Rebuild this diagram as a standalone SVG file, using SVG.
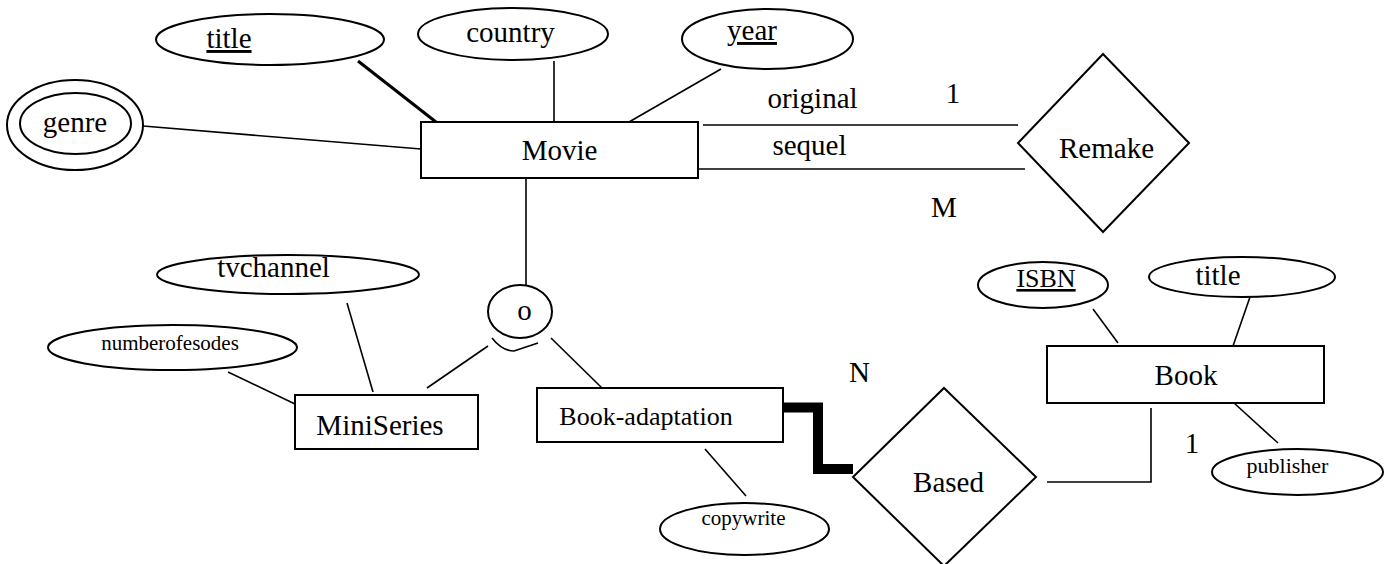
<svg xmlns="http://www.w3.org/2000/svg" width="1391" height="564" viewBox="0 0 1391 564">
<style>
.s{fill:#fff;stroke:#000;stroke-width:2}
.l{fill:none;stroke:#000;stroke-width:1.6}
.t{stroke-width:3}
text{font-family:"Liberation Serif","Times New Roman",serif;fill:#000;text-anchor:middle;font-size:29px}
.sm{font-size:21px}
.md{font-size:26px}
.u{text-decoration:underline}
</style>
<rect width="1391" height="564" fill="#fff"/>
<g id="connectors">
<line class="l" x1="143" y1="126" x2="421" y2="149"/>
<line class="l t" x1="358" y1="61" x2="436" y2="122"/>
<line class="l" x1="554" y1="61" x2="554" y2="122"/>
<line class="l" x1="721" y1="69" x2="629" y2="122"/>
<line class="l" x1="703" y1="125" x2="1018" y2="125"/>
<line class="l" x1="697" y1="169" x2="1025" y2="169"/>
<line class="l" x1="526" y1="178" x2="526" y2="285"/>
<line class="l" x1="427" y1="388" x2="488" y2="346"/>
<line class="l" x1="551" y1="338" x2="602" y2="388"/>
<path class="l" d="M492 338 Q502 351 514 351 L538 343"/>
<line class="l" x1="347" y1="303" x2="373" y2="392"/>
<line class="l" x1="228" y1="372" x2="295" y2="404"/>
<path d="M783 407.5 H818 V469 H853" fill="none" stroke="#000" stroke-width="10" stroke-linejoin="miter"/>
<line class="l" x1="705" y1="449" x2="746" y2="496"/>
<path class="l" d="M1047 482 H1151 V408"/>
<line class="l" x1="1093" y1="309" x2="1118" y2="343"/>
<line class="l" x1="1250" y1="297" x2="1233" y2="346"/>
<line class="l" x1="1234" y1="403" x2="1278" y2="443"/>
</g>
<g id="attr-title"><ellipse class="s" cx="270" cy="39.5" rx="114" ry="25.5"/><text class="u" x="229" y="48">title</text></g>
<g id="attr-country"><ellipse class="s" cx="513" cy="34" rx="95" ry="26"/><text x="510.5" y="42">country</text></g>
<g id="attr-year"><ellipse class="s" cx="767.5" cy="39" rx="85.5" ry="30"/><text class="u" x="752" y="40">year</text></g>
<g id="attr-genre"><ellipse class="s" cx="75" cy="125" rx="68" ry="45"/><ellipse class="s" cx="75.5" cy="123.5" rx="55.5" ry="30.5"/><text x="75" y="132">genre</text></g>
<g id="movie"><rect class="s" x="421" y="122" width="277" height="56"/><text x="559.5" y="160">Movie</text></g>
<g id="labels-remake"><text x="812.5" y="108">original</text><text x="953" y="103">1</text><text x="809.5" y="155">sequel</text><text x="944" y="217">M</text></g>
<g id="remake"><polygon class="s" points="1103,54 1189,143 1103,232 1018,143"/><text x="1106.5" y="158">Remake</text></g>
<g id="attr-tvchannel"><ellipse class="s" cx="288" cy="274.5" rx="131" ry="19.5"/><text x="273.5" y="277">tvchannel</text></g>
<g id="attr-numberofesodes"><ellipse class="s" cx="172.5" cy="347.5" rx="124.5" ry="22.5"/><text class="sm" x="170" y="350">numberofesodes</text></g>
<g id="miniseries"><rect class="s" x="295" y="395" width="183" height="54"/><text x="380" y="435">MiniSeries</text></g>
<g id="overlap"><ellipse class="s" cx="520" cy="311.5" rx="32" ry="26.5"/><text x="524.5" y="320">o</text></g>
<g id="book-adaptation"><rect class="s" x="537" y="388" width="246" height="54"/><text class="md" x="646" y="425">Book-adaptation</text></g>
<g id="attr-copywrite"><ellipse class="s" cx="744.5" cy="529" rx="84.5" ry="26"/><text class="sm" x="743.5" y="525">copywrite</text></g>
<g id="labels-based"><text x="859.5" y="382">N</text><text x="1192" y="453">1</text></g>
<g id="based"><polygon class="s" points="944,388 1036,477 944,566 853,477"/><text x="948.5" y="492">Based</text></g>
<g id="attr-isbn"><ellipse class="s" cx="1043" cy="285" rx="65" ry="23"/><text class="md u" x="1046" y="287">ISBN</text></g>
<g id="attr-booktitle"><ellipse class="s" cx="1242" cy="277" rx="93" ry="20"/><text x="1218" y="285">title</text></g>
<g id="book"><rect class="s" x="1047" y="346" width="277" height="57"/><text x="1186" y="385">Book</text></g>
<g id="attr-publisher"><ellipse class="s" cx="1297.5" cy="472" rx="85.5" ry="23"/><text class="sm" x="1287.5" y="473" style="font-size:22px">publisher</text></g>
</svg>
